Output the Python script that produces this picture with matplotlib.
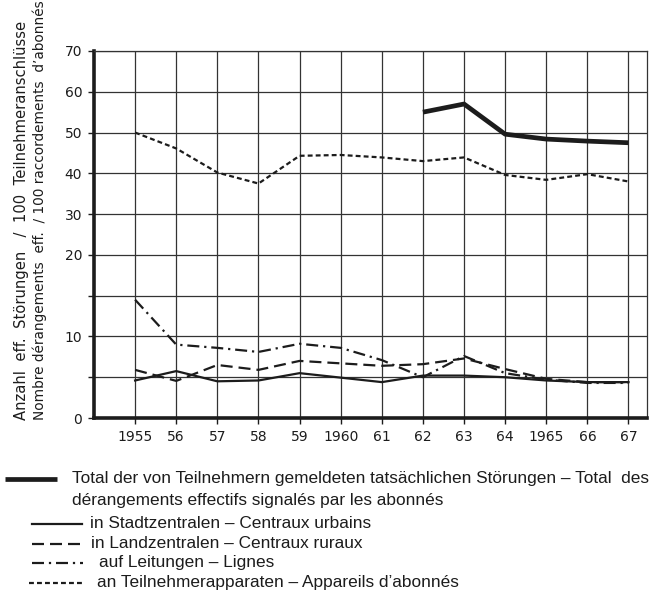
# -*- coding: utf-8 -*-
"""
Störungen pro 100 Teilnehmeranschlüsse 1955-1967 (Nachbildung des Diagramms).
Gebrochene y-Skala: 0-20 in 5er-Schritten, 20-70 in 10er-Schritten.
"""

import numpy as np
import matplotlib
matplotlib.use("Agg")
import matplotlib.pyplot as plt
from matplotlib.lines import Line2D

years = [1955, 1956, 1957, 1958, 1959, 1960, 1961, 1962, 1963, 1964, 1965, 1966, 1967]
year_labels = ["1955", "56", "57", "58", "59", "1960", "61", "62", "63", "64", "1965", "66", "67"]

total = [np.nan, np.nan, np.nan, np.nan, np.nan, np.nan, np.nan,
         55.0, 57.0, 49.6, 48.4, 47.9, 47.5]
stadt = [4.6, 5.75, 4.5, 4.6, 5.5, 4.95, 4.4, 5.2, 5.2, 5.0, 4.6, 4.4, 4.4]
land = [5.9, 4.55, 6.5, 5.9, 7.0, 6.7, 6.4, 6.6, 7.3, 6.0, 4.8, 4.4, 4.4]
leitungen = [14.5, 9.0, 8.6, 8.1, 9.1, 8.6, 7.1, 5.0, 7.6, 5.5, 4.7, 4.3, 4.3]
apparate = [50.0, 46.1, 40.2, 37.5, 44.3, 44.5, 43.9, 43.0, 43.9, 39.6, 38.4, 39.8, 38.0]

y_ticks = [0, 5, 10, 15, 20, 30, 40, 50, 60, 70]
y_labels = ["0", "", "10", "", "20", "30", "40", "50", "60", "70"]

ylabel_de = "Anzahl  eff.  Störungen   /  100  Teilnehmeranschlüsse"
ylabel_fr = "Nombre dérangements  eff.  / 100 raccordements  d\u2019abonnés"

legend_texts = [
    "Total der von Teilnehmern gemeldeten tatsächlichen Störungen \u2013 Total  des",
    "dérangements effectifs signalés par les abonnés",
    "in Stadtzentralen \u2013 Centraux urbains",
    "in Landzentralen \u2013 Centraux ruraux",
    "auf Leitungen \u2013 Lignes",
    "an Teilnehmerapparaten \u2013 Appareils d\u2019abonnés",
]

INK = "#1c1c1c"
W, H = 667, 601


def fwd(y):
    y = np.asarray(y, dtype=float)
    return np.where(y <= 20, y / 5.0, 4 + (y - 20) / 10.0)


def inv(r):
    r = np.asarray(r, dtype=float)
    return np.where(r <= 4, r * 5.0, 20 + (r - 4) * 10.0)


def fx(px):
    return px / W


def fy(py):
    return 1 - py / H


fig = plt.figure(figsize=(W / 100, H / 100), dpi=100)
renderer = fig.canvas.get_renderer()


def fit_size(text, target_px, family=None, rotation=0):
    """Schriftgrösse so wählen, dass der Text target_px lang wird."""
    kw = {"family": family} if family else {}
    probe = fig.text(0, 0, text, fontsize=10, rotation=rotation, **kw)
    bb = probe.get_window_extent(renderer)
    probe.remove()
    length = bb.height if rotation else bb.width
    return 10 * target_px / length


ax = fig.add_axes([fx(94), fy(418), fx(647) - fx(94), fy(51) - fy(418)])
ax.set_yscale("function", functions=(fwd, inv))
ax.set_ylim(0, 70)
ax.set_xlim(1954, 1967.45)

ax.set_xticks(years)
ax.set_xticklabels(year_labels, fontsize=10, color=INK)
ax.set_yticks(y_ticks)
ax.set_yticklabels(y_labels, fontsize=10, color=INK)
ax.yaxis.set_minor_locator(matplotlib.ticker.NullLocator())
ax.tick_params(direction="out", length=4.5, width=1, color=INK, pad=4)

ax.grid(True, color="#333333", linewidth=0.9)
ax.set_axisbelow(True)
for side in ["left", "bottom"]:
    ax.spines[side].set_linewidth(2.6)
    ax.spines[side].set_color(INK)
for side in ["top", "right"]:
    ax.spines[side].set_linewidth(0.9)
    ax.spines[side].set_color("#333333")

lw = 1.6
styles = {
    "total": dict(color=INK, linewidth=3.4, solid_capstyle="butt"),
    "stadt": dict(color=INK, linewidth=lw, linestyle="-"),
    "land": dict(color=INK, linewidth=lw, linestyle=(0, (5.4, 2.7))),
    "leitungen": dict(color=INK, linewidth=lw, linestyle=(0, (5.4, 2.2, 1.0, 2.2))),
    "apparate": dict(color=INK, linewidth=lw, linestyle=(0, (2.2, 1.4))),
}

ax.plot(years, apparate, **styles["apparate"])
ax.plot(years, leitungen, **styles["leitungen"])
ax.plot(years, land, **styles["land"])
ax.plot(years, stadt, **styles["stadt"])
ax.plot(years, total, **styles["total"])

# y-Achsenbeschriftung, zweisprachig
fig.text(fx(22), fy(420), ylabel_de, rotation=90, ha="center", va="bottom",
         fontsize=fit_size(ylabel_de, 396, rotation=90), color=INK)
fig.text(fx(40), fy(420), ylabel_fr, rotation=90, ha="center", va="bottom",
         fontsize=fit_size(ylabel_fr, 416, rotation=90), color=INK)

# Legende von Hand, wie im Original
leg_font = ["Liberation Sans", "DejaVu Sans"]
leg_size = fit_size(legend_texts[0], 578, family=leg_font)

fig.add_artist(Line2D([fx(5), fx(57)], [fy(479), fy(479)], transform=fig.transFigure,
                      **styles["total"]))
fig.text(fx(72), fy(479), legend_texts[0], ha="left", va="center",
         fontsize=leg_size, family=leg_font, color=INK)
fig.text(fx(72), fy(501), legend_texts[1], ha="left", va="center",
         fontsize=leg_size, family=leg_font, color=INK)

rows = [
    ("stadt", 32, 82, 524, 90, legend_texts[2]),
    ("land", 32, 82, 544, 91, legend_texts[3]),
    ("leitungen", 32, 83, 563, 99, legend_texts[4]),
    ("apparate", 29, 83, 583, 97, legend_texts[5]),
]
for key, x0, x1, yy, tx, txt in rows:
    fig.add_artist(Line2D([fx(x0), fx(x1)], [fy(yy), fy(yy)], transform=fig.transFigure,
                          **styles[key]))
    fig.text(fx(tx), fy(yy), txt, ha="left", va="center",
             fontsize=leg_size, family=leg_font, color=INK)

fig.savefig("out.png", dpi=100, facecolor="white")
